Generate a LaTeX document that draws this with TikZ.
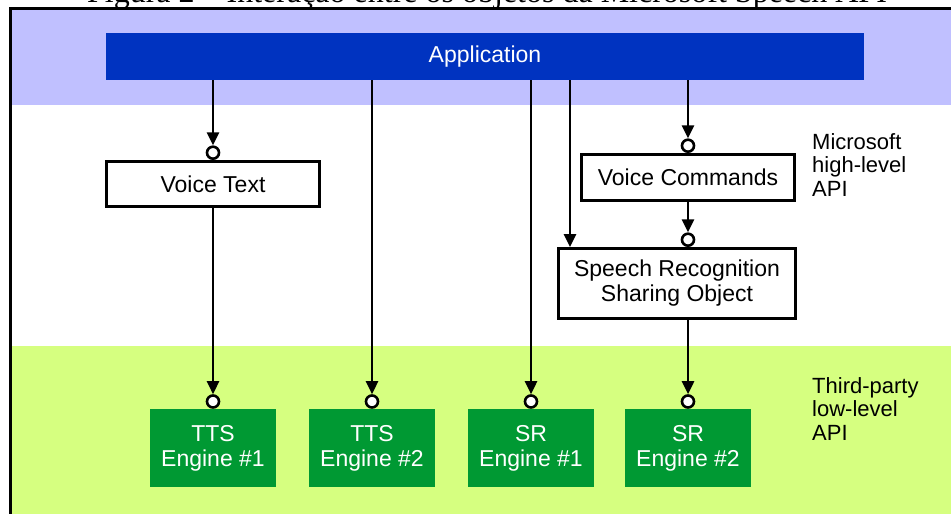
\documentclass[tikz,border=0pt]{standalone}
\usepackage{fontspec}
\setmainfont{Liberation Sans}
\newfontfamily\legendefont{Liberation Serif}
\usetikzlibrary{arrows.meta}
\definecolor{bandebleue}{RGB}{192,192,255}
\definecolor{bandeverte}{RGB}{214,255,128}
\definecolor{appbleu}{RGB}{0,51,192}
\definecolor{moteurvert}{RGB}{0,153,51}

\begin{document}
\begin{tikzpicture}[x=1pt,y=-1pt,
    boite/.style={draw, line width=3pt, fill=white, inner sep=0pt, align=center, font=\fontsize{23}{25}\selectfont},
    moteur/.style={fill=moteurvert, text=white, minimum width=126, minimum height=78, inner sep=0pt, align=center, font=\fontsize{23}{25}\selectfont},
    port/.style={circle, draw, line width=2.6pt, fill=white, minimum size=12pt, inner sep=0pt, anchor=south},
    lien/.style={line width=2.6pt, -{Triangle[length=13pt,width=12pt]}},
    couche/.style={anchor=north west, inner sep=0pt, align=left, font=\fontsize{22}{23.5}\selectfont}]
        \useasboundingbox (0,0) rectangle (951,514);
        \clip (0,0) rectangle (951,514);
        % Légende (coupée)
        \node[anchor=base, inner sep=0pt, font=\legendefont\fontsize{32}{36}\selectfont] (legende) at (487,2.5) {Figura 2 – Interação entre os objetos da Microsoft Speech API};
        % Bandes
        \fill[bandebleue] (12,10) rectangle (951,105);
        \fill[bandeverte] (12,346) rectangle (951,514);
        \draw[line width=2.7pt] (10.5,514) -- (10.5,8.7) -- (951,8.7);
        % Application
        \node[fill=appbleu, text=white, minimum width=758, minimum height=47, inner sep=0pt, font=\fontsize{23}{25}\selectfont] (app) at (485,56.5) {Application};
        % Objets de haut niveau
        \node[boite, minimum width=213.5, minimum height=45] (vtext) at (213,184) {Voice Text};
        \node[boite, minimum width=213.5, minimum height=46] (vcmd) at (688,177.5) {Voice Commands};
        \node[boite, minimum width=237, minimum height=70] (srso) at (677,283.5) {Speech Recognition\\Sharing Object};
        % Moteurs
        \node[moteur] (tts1) at (213,448) {TTS\\Engine \#1};
        \node[moteur] (tts2) at (372,448) {TTS\\Engine \#2};
        \node[moteur] (sr1) at (531,448) {SR\\Engine \#1};
        \node[moteur] (sr2) at (688,448) {SR\\Engine \#2};
        % Ports
        \node[port] (pvtext) at (vtext.north) {};
        \node[port] (pvcmd) at (vcmd.north) {};
        \node[port] (psrso) at (vcmd.south |- srso.north) {};
        \node[port] (ptts1) at (tts1.north) {};
        \node[port] (ptts2) at (tts2.north) {};
        \node[port] (psr1) at (sr1.north) {};
        \node[port] (psr2) at (sr2.north) {};
        % Liens
        \coordinate (partage) at (570,80);
        \draw[lien] (app.south -| pvtext) -- (pvtext);
        \draw[lien] (app.south -| ptts2) -- (ptts2);
        \draw[lien] (app.south -| psr1) -- (psr1);
        \draw[lien] (partage) -- (partage |- srso.north);
        \draw[lien] (app.south -| pvcmd) -- (pvcmd);
        \draw[lien] (vcmd.south -| psrso) -- (psrso);
        \draw[lien] (vtext.south) -- (ptts1);
        \draw[lien] (srso.south -| psr2) -- (psr2);
        % Niveaux
        \node[couche] (haut) at (812,133) {Microsoft\\high-level\\API};
        \node[couche] (bas) at (812,377) {Third-party\\low-level\\API};
    \end{tikzpicture}
\end{document}
